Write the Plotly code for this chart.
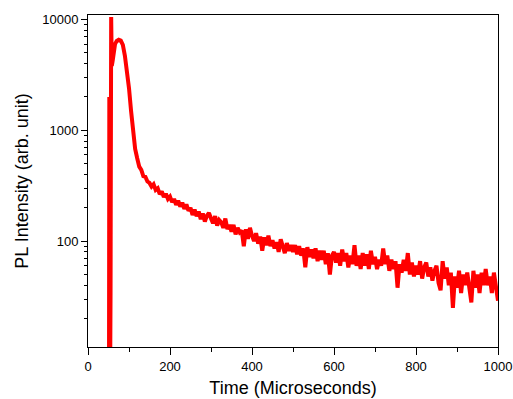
import plotly.graph_objects as go

# Time (microseconds) and PL intensity
t_early = [51, 52, 53, 55, 56.5, 58, 60, 63, 66, 70, 75, 80, 85, 90, 95, 100,
           105, 110, 115, 120, 125, 130, 135, 140, 145]
i_early = [1, 2000, 1, 34, 10500, 3800, 4200, 5200, 6000, 6400, 6550, 6450,
           5900, 4700, 3500, 2400, 1500, 950, 680, 560, 470, 440, 385, 380, 345]

t_tail = list(range(150, 1001, 5))
i_tail = [
    335, 310, 325, 290, 300,
    265, 280, 250, 268, 240,
    252, 225, 240, 212, 232,
    205, 222, 195, 215, 188,
    200, 172, 192, 168, 185,
    158, 178, 150, 170, 180,
    160, 145, 168, 138, 155,
    148, 132, 160, 128, 140,
    122, 140, 115, 132, 120,
    125, 90, 128, 105, 132,
    112, 100, 118, 95, 110,
    82, 108, 92, 112, 90,
    102, 86, 98, 80, 104,
    90, 78, 96, 82, 92,
    80, 92, 76, 90, 74,
    86, 58, 88, 72, 84,
    70, 86, 66, 82, 68,
    82, 62, 78, 50, 74,
    80, 64, 78, 60, 84,
    66, 78, 58, 74, 62,
    92, 60, 74, 56, 78,
    60, 76, 56, 82, 62,
    72, 56, 68, 60, 86,
    62, 74, 54, 68, 56,
    66, 38, 62, 52, 68,
    54, 78, 50, 64, 48,
    60, 50, 66, 46, 58,
    64, 48, 58, 44, 54,
    60, 42, 36, 66, 46,
    58, 40, 52, 25, 48,
    38, 54, 34, 50, 40,
    52, 36, 28, 54, 38,
    50, 34, 52, 40, 56,
    40, 48, 34, 52, 38,
    29,
]

time_us = t_early + t_tail
intensity = i_early + i_tail

x_ticks = [0, 200, 400, 600, 800, 1000]
y_ticks = [100, 1000, 10000]

fig = go.Figure()
fig.add_trace(go.Scatter(x=time_us, y=intensity, mode="lines",
                         line=dict(color="#ff0000", width=4), showlegend=False))

font = dict(family="Arial, Liberation Sans, sans-serif", color="black")
fig.update_layout(
    width=513, height=399,
    margin=dict(l=88, r=15, t=15, b=52, autoexpand=False),
    paper_bgcolor="white", plot_bgcolor="white",
    font=dict(family="Arial, Liberation Sans, sans-serif", color="black", size=13),
)
fig.update_xaxes(
    range=[0, 1000], tickvals=x_ticks, ticktext=[str(v) for v in x_ticks],
    showline=True, linecolor="black", linewidth=1, mirror=True,
    ticks="outside", ticklen=7, tickcolor="black", tickwidth=1,
    showgrid=False, zeroline=False, automargin=False,
    tickfont=dict(size=13, **font),
    minor=dict(ticks="outside", ticklen=4, dtick=100, tickcolor="black", showgrid=False),
    title=dict(text="Time (Microseconds)", font=dict(size=18, **font), standoff=8),
)
fig.update_yaxes(
    type="log", range=[1.045, 4.04], tickvals=y_ticks, ticktext=[str(v) for v in y_ticks],
    showline=True, linecolor="black", linewidth=1, mirror=True,
    ticks="outside", ticklen=6, tickcolor="black", tickwidth=1,
    showgrid=False, zeroline=False, automargin=False,
    tickfont=dict(size=13, **font),
    minor=dict(ticks="outside", ticklen=3, dtick="D1", tickcolor="black", showgrid=False),
    title=dict(text="PL Intensity (arb. unit)", font=dict(size=18, **font), standoff=8),
)

fig.write_html("out.html", config={"displayModeBar": False},
               post_script="document.body.style.margin='0';")
